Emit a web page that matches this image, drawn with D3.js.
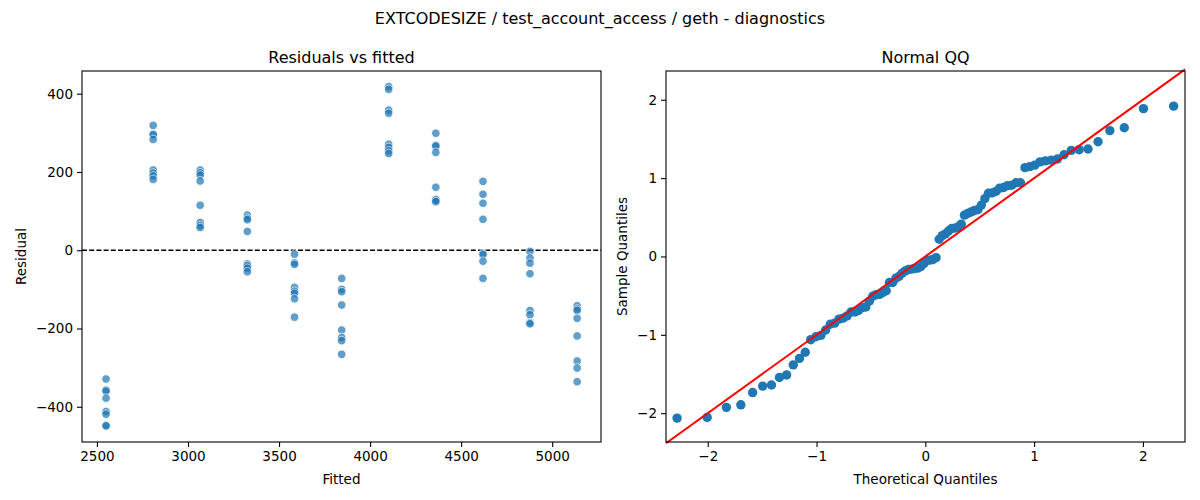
<!DOCTYPE html>
<html>
<head>
<meta charset="utf-8">
<script src="https://cdn.jsdelivr.net/npm/d3@7"></script>
<style>
  body { margin: 0; background: #fff; }
  svg { font-family: "DejaVu Sans", sans-serif; }
</style>
</head>
<body>
<svg width="1200" height="500"></svg>
<script>
const width = 1200;
const height = 500;

// Fitted levels (one group of residuals per level)
const fittedLevels = [2550, 2809, 3067, 3326, 3585, 3844, 4102, 4361, 4620, 4878, 5137];

// Residuals, grouped by fitted level
const residualGroups = [
    [-329, -357, -360, -378, -412, -419, -447, -449],
    [319, 297, 295, 283, 205, 197, 190, 181],
    [205, 198, 192, 177, 115, 71, 63, 58],
    [90, 82, 78, 48, -35, -40, -46, -55],
    [-10, -32, -36, -95, -105, -110, -124, -171],
    [-72, -100, -106, -140, -204, -223, -231, -266],
    [418, 411, 358, 350, 271, 263, 254, 247],
    [299, 268, 266, 250, 161, 130, 128, 124],
    [176, 143, 120, 79, -8, -11, -28, -72],
    [-3, -20, -33, -60, -154, -165, -185, -188],
    [-142, -150, -154, -174, -219, -283, -301, -336]
];

const fittedTicks = [2500, 3000, 3500, 4000, 4500, 5000];
const residualTicks = [-400, -200, 0, 200, 400];
const quantileTicks = [-2, -1, 0, 1, 2];

const svg = d3.select("svg")
    .attr("viewBox", `0 0 ${width} ${height}`);

// Flatten to points
const points = [];
fittedLevels.forEach((f, i) => {
    residualGroups[i].forEach(r => points.push({ fitted: f, resid: r }));
});

// Inverse normal CDF (Acklam) for the theoretical quantiles
function normInv(p) {
    const a = [-39.69683028665376, 220.9460984245205, -275.9285104469687, 138.3577518672690, -30.66479806614716, 2.506628277459239];
    const b = [-54.47609879822406, 161.5858368580409, -155.6989798598866, 66.80131188771972, -13.28068155288572];
    const c = [-0.007784894002430293, -0.3223964580411365, -2.400758277161838, -2.549732539343734, 4.374664141464968, 2.938163982698783];
    const d = [0.007784695709041462, 0.3224671290700398, 2.445134137142996, 3.754408661907416];
    const pl = 0.02425, ph = 1 - pl;
    let q, r;
    if (p < pl) {
        q = Math.sqrt(-2 * Math.log(p));
        return (((((c[0]*q+c[1])*q+c[2])*q+c[3])*q+c[4])*q+c[5]) / ((((d[0]*q+d[1])*q+d[2])*q+d[3])*q+1);
    } else if (p <= ph) {
        q = p - 0.5; r = q * q;
        return (((((a[0]*r+a[1])*r+a[2])*r+a[3])*r+a[4])*r+a[5])*q / (((((b[0]*r+b[1])*r+b[2])*r+b[3])*r+b[4])*r+1);
    }
    q = Math.sqrt(-2 * Math.log(1 - p));
    return -(((((c[0]*q+c[1])*q+c[2])*q+c[3])*q+c[4])*q+c[5]) / ((((d[0]*q+d[1])*q+d[2])*q+d[3])*q+1);
}

// QQ table built from the residuals
const resid = points.map(d => d.resid);
const mean = d3.mean(resid);
const sd = Math.sqrt(d3.mean(resid, v => (v - mean) ** 2));
const sorted = resid.map(v => (v - mean) / sd).sort(d3.ascending);
const n = sorted.length;
const qq = sorted.map((s, i) => ({ theo: normInv((i + 1) / (n + 1)), sample: s }));

// Panel geometry
const left = { x0: 82, x1: 601, y0: 71, y1: 442 };
const right = { x0: 666, x1: 1185, y0: 71, y1: 442 };

const intFormat = d3.format("d");

function drawAxes(g, box, xScale, yScale, xTicks, yTicks, xLabel, yLabel, title, yLabelX) {
    const xAxis = d3.axisBottom(xScale).tickValues(xTicks).tickFormat(intFormat).tickSize(5).tickPadding(4);
    const yAxis = d3.axisLeft(yScale).tickValues(yTicks).tickFormat(intFormat).tickSize(5).tickPadding(4);

    const gx = g.append("g").attr("transform", `translate(0,${box.y1})`).call(xAxis);
    const gy = g.append("g").attr("transform", `translate(${box.x0},0)`).call(yAxis);
    [gx, gy].forEach(a => {
        a.select(".domain").remove();
        a.selectAll("line").attr("stroke", "#000").attr("stroke-width", 1.1);
        a.selectAll("text").attr("font-size", "13.5px").attr("fill", "#000")
            .attr("font-family", "DejaVu Sans, sans-serif");
    });

    // frame
    g.append("rect")
        .attr("x", box.x0).attr("y", box.y0)
        .attr("width", box.x1 - box.x0).attr("height", box.y1 - box.y0)
        .attr("fill", "none").attr("stroke", "#000").attr("stroke-width", 1.1);

    g.append("text")
        .attr("x", (box.x0 + box.x1) / 2).attr("y", 484)
        .attr("text-anchor", "middle").attr("font-size", "13.5px")
        .text(xLabel);

    g.append("text")
        .attr("transform", `translate(${yLabelX},${(box.y0 + box.y1) / 2}) rotate(-90)`)
        .attr("text-anchor", "middle").attr("font-size", "13.5px")
        .text(yLabel);

    g.append("text")
        .attr("x", (box.x0 + box.x1) / 2).attr("y", 63)
        .attr("text-anchor", "middle").attr("font-size", "16px")
        .text(title);
}

// Main title
svg.append("text")
    .attr("x", width / 2).attr("y", 24)
    .attr("text-anchor", "middle").attr("font-size", "16px")
    .text("EXTCODESIZE / test_account_access / geth - diagnostics");

// Residuals vs fitted
const x1 = d3.scaleLinear().domain([2418, 5268]).range([left.x0, left.x1]);
const y1 = d3.scaleLinear().domain([-490, 458]).range([left.y1, left.y0]);
const g1 = svg.append("g");

g1.append("line")
    .attr("x1", left.x0).attr("x2", left.x1)
    .attr("y1", y1(0)).attr("y2", y1(0))
    .attr("stroke", "#000").attr("stroke-width", 1.3)
    .attr("stroke-dasharray", "5,2.2");

g1.selectAll("circle")
    .data(points)
    .join("circle")
    .attr("cx", d => x1(d.fitted))
    .attr("cy", d => y1(d.resid))
    .attr("r", 4.3)
    .attr("fill", "#1f77b4")
    .attr("stroke", "#fff")
    .attr("stroke-width", 0.9)
    .attr("opacity", 0.7);

drawAxes(g1, left, x1, y1, fittedTicks, residualTicks, "Fitted", "Residual", "Residuals vs fitted", 26);

// Normal QQ
const x2 = d3.scaleLinear().domain([-2.384, 2.387]).range([right.x0, right.x1]);
const y2 = d3.scaleLinear().domain([-2.368, 2.367]).range([right.y1, right.y0]);
const g2 = svg.append("g");

g2.selectAll("circle")
    .data(qq)
    .join("circle")
    .attr("cx", d => x2(d.theo))
    .attr("cy", d => y2(d.sample))
    .attr("r", 4.7)
    .attr("fill", "#1f77b4");

g2.append("line")
    .attr("x1", x2(-2.384)).attr("y1", y2(-2.384))
    .attr("x2", x2(2.387)).attr("y2", y2(2.387))
    .attr("stroke", "#ff0000").attr("stroke-width", 2);

drawAxes(g2, right, x2, y2, quantileTicks, quantileTicks, "Theoretical Quantiles", "Sample Quantiles", "Normal QQ", 627);
</script>
</body>
</html>
